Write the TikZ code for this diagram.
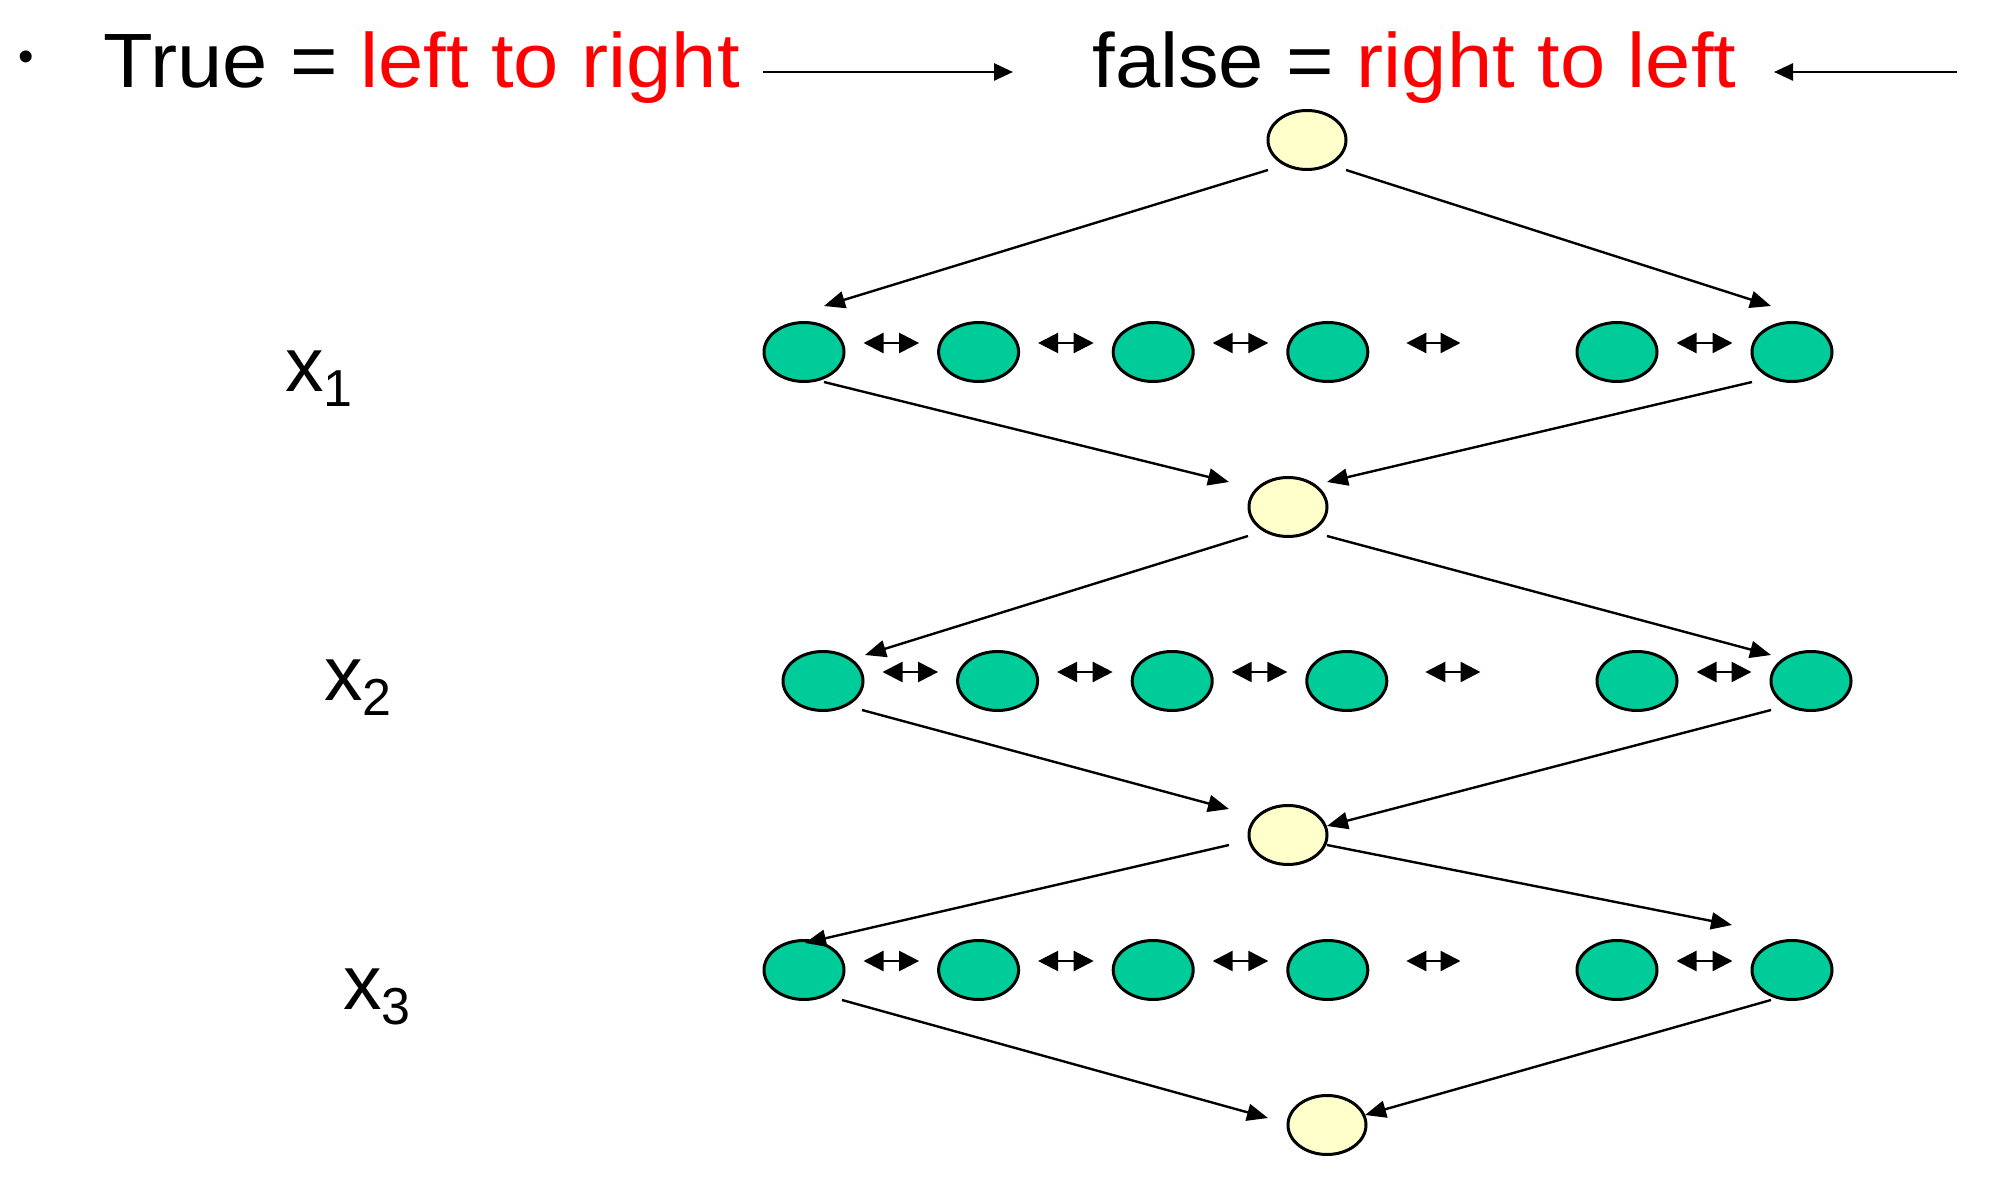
\documentclass[tikz,border=0pt]{standalone}
\usepackage{fontspec}
\setmainfont{Liberation Sans}
\usepackage{graphicx}
\usetikzlibrary{calc,shapes.geometric,arrows.meta}
\definecolor{nodegreen}{HTML}{00CC99}
\definecolor{nodeyellow}{HTML}{FFFFCC}
\definecolor{textred}{HTML}{FF0000}
\begin{document}
\begin{tikzpicture}[x=0.5pt,y=-0.5pt,
  greenell/.style={ellipse,draw=black,line width=1.5pt,fill=nodegreen,minimum width=40pt,minimum height=29.5pt,inner sep=0pt},
  yellowell/.style={ellipse,draw=black,line width=1.5pt,fill=nodeyellow,minimum width=39pt,minimum height=29.5pt,inner sep=0pt},
  conn/.style={line width=1.2pt,-{Triangle[length=10.5pt,width=8.5pt]}},
  toparrow/.style={line width=1.3pt,-{Triangle[length=9.5pt,width=8.5pt]}},
  dbl/.style={line width=1.2pt,{Triangle[length=10pt,width=10pt]}-{Triangle[length=10pt,width=10pt]}},
  toptext/.style={inner sep=0pt,anchor=base west,font=\fontsize{38.5}{40}\selectfont},
  xlabel/.style={inner sep=0pt,anchor=base west,font=\fontsize{38.5}{40}\selectfont}]
\useasboundingbox (0,0) rectangle (2010,1192);

% top line
\node[inner sep=0pt,anchor=center,font=\fontsize{22}{22}\selectfont] (bul) at (26,61) {\textbullet};
\node[toptext] (t1) at (103,88) {\scalebox{1.056}[1]{True = \textcolor{textred}{left to right}}};
\node[toptext] (t2) at (1092,88) {\scalebox{1.056}[1]{false = \textcolor{textred}{right to left}}};
\coordinate (ltrS) at (763,72);
\coordinate (ltrE) at (1013,72);
\draw[toparrow] (ltrS) -- (ltrE);
\coordinate (rtlS) at (1957,72);
\coordinate (rtlE) at (1774,72);
\draw[toparrow] (rtlS) -- (rtlE);

% yellow nodes
\node[yellowell] (Y0) at (1307,140) {};
\node[yellowell] (Y1) at (1288,507) {};
\node[yellowell] (Y2) at (1288,835) {};
\node[yellowell] (Y3) at (1327,1125) {};

% green rows
\foreach \n/\x in {a/804,b/978.6,c/1153.2,d/1327.8,e/1617,f/1792} {
  \node[greenell] (r1\n) at (\x,352) {};
  \node[greenell] (r3\n) at (\x,970) {};
}
\foreach \n/\x in {a/823,b/997.6,c/1172.2,d/1346.8,e/1637,f/1811}
  \node[greenell] (r2\n) at (\x,681) {};

% double arrows
\foreach \r in {1,2,3} {
  \foreach \p/\q/\s/\t in {a/b/9/9,b/c/9/9,c/d/9/9,d/e/18.5/57.5,e/f/9/9}
    \draw[dbl,shorten <=\s pt,shorten >=\t pt] ($(r\r\p.east)+(0,-9)$) -- ($(r\r\q.west)+(0,-9)$);
}

% connectors
\draw[conn] ($(Y0.center)+(-39,30)$) -- ($(r1a.center)+(20,-46)$);
\draw[conn] ($(Y0.center)+(39,30)$) -- ($(r1f.center)+(-21,-46)$);
\draw[conn] ($(r1a.center)+(20,30)$) -- ($(Y1.center)+(-59,-25)$);
\draw[conn] ($(r1f.center)+(-40,30)$) -- ($(Y1.center)+(39,-25)$);
\draw[conn] ($(Y1.center)+(-40,29)$) -- ($(r2a.center)+(42,-26)$);
\draw[conn] ($(Y1.center)+(39,29)$) -- ($(r2f.center)+(-40,-26)$);
\draw[conn] ($(r2a.center)+(39,29)$) -- ($(Y2.center)+(-59,-26)$);
\draw[conn] ($(r2f.center)+(-40,29)$) -- ($(Y2.center)+(39,-9)$);
\draw[conn] ($(Y2.center)+(-59,10)$) -- ($(r3a.center)+(1,-27)$);
\draw[conn] ($(Y2.center)+(39,10)$) -- ($(r3f.center)+(-60,-45)$);
\draw[conn] ($(r3a.center)+(38,30)$) -- ($(Y3.center)+(-59,-7)$);
\draw[conn] ($(r3f.center)+(-21,30)$) -- ($(Y3.center)+(38,-10)$);

% row labels
\node[xlabel] (x1) at (285,392) {x\raisebox{-7.5pt}{\fontsize{26}{28}\selectfont 1}};
\node[xlabel] (x2) at (324,701) {x\raisebox{-7.5pt}{\fontsize{26}{28}\selectfont 2}};
\node[xlabel] (x3) at (343,1009) {x\raisebox{-7.5pt}{\fontsize{26}{28}\selectfont 3}};
\end{tikzpicture}
\end{document}
